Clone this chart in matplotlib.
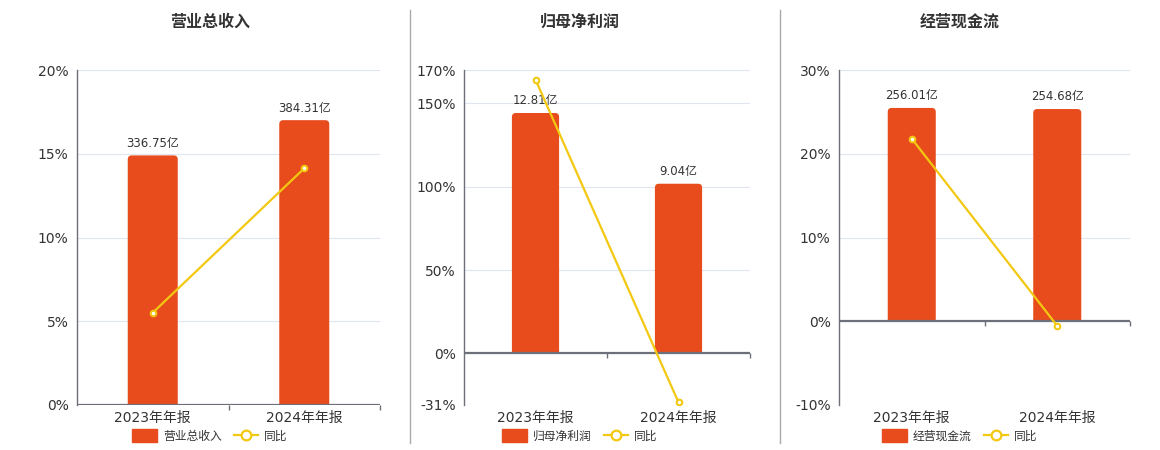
import matplotlib.pyplot as plt
from matplotlib.patches import Patch, PathPatch
from matplotlib.path import Path
from matplotlib.lines import Line2D

plt.rcParams['font.family'] = ['DejaVu Sans', 'Noto Sans CJK SC']

# Data
periods = ['2023年年报', '2024年年报']

titles = ['营业总收入', '归母净利润', '经营现金流']
bar_values = [[336.75, 384.31], [12.81, 9.04], [256.01, 254.68]]
bar_labels = [['336.75亿', '384.31亿'], ['12.81亿', '9.04亿'], ['256.01亿', '254.68亿']]
yoy = [[5.51, 14.13], [164.2, -29.4], [21.8, -0.55]]

pct_ticks = [[0, 5, 10, 15, 20], [-31, 0, 50, 100, 150, 170], [-10, 0, 10, 20, 30]]
bar_max = [452.0, 12.81 * 170 / 144.2, 256.01 * 30 / 25.47]

BAR = '#E84B1C'
LINE = '#F2C811'
AXIS = '#6E7079'
GRID = '#E0E6F1'
TXT = '#333333'

fig = plt.figure(figsize=(11.6, 4.5), dpi=100)

# axes boxes in pixels (left, right), shared top/bottom
boxes = [(77, 380), (464, 750), (839, 1130)]
centers = [210, 580, 960]
W, H = 1160, 450
top_px, bot_px = 70, 405


def top_rounded(x0, w, h, rx, ry):
    x1 = x0 + w
    verts = [(x0, 0), (x0, h - ry), (x0, h), (x0 + rx, h), (x1 - rx, h),
             (x1, h), (x1, h - ry), (x1, 0), (x0, 0)]
    codes = [Path.MOVETO, Path.LINETO, Path.CURVE3, Path.CURVE3, Path.LINETO,
             Path.CURVE3, Path.CURVE3, Path.LINETO, Path.CLOSEPOLY]
    return Path(verts, codes)


for i in range(3):
    l, r = boxes[i]
    ax = fig.add_axes([l / W, 1 - bot_px / H, (r - l) / W, (bot_px - top_px) / H])
    ticks = pct_ticks[i]
    lo, hi = ticks[0], ticks[-1]
    ax.set_xlim(-0.5, 1.5)
    ax.set_ylim(lo, hi)
    ax.set_yticks(ticks)
    ax.set_yticklabels([f'{t}%' for t in ticks])
    ax.tick_params(axis='y', length=0, pad=6, labelsize=10, labelcolor=TXT)
    ax.set_xticks(range(len(periods)))
    ax.set_xticklabels(periods)
    ax.tick_params(axis='x', length=0, pad=4, labelsize=10, labelcolor=TXT)
    ax.grid(axis='y', color=GRID, lw=0.8)
    ax.set_axisbelow(True)
    for s in ['top', 'right', 'bottom']:
        ax.spines[s].set_visible(False)
    ax.spines['left'].set_color(AXIS)
    ax.spines['left'].set_linewidth(1.0)
    tick_len = 5 * (hi - lo) / (bot_px - top_px)
    ax.vlines([0.5, 1.5], 0 - tick_len, 0, color=AXIS, lw=1.0, clip_on=False)

    # bars on a hidden twin axis with zero aligned
    ax2 = ax.twinx()
    m = bar_max[i]
    ax2.set_ylim(m * lo / hi, m)
    ax2.axis('off')
    bars = ax2.bar(range(len(periods)), bar_values[i], width=0.33, color=BAR, zorder=2)
    # rounded top corners
    x_per_px = 2.0 / (r - l)
    y_per_px = (m - m * lo / hi) / (bot_px - top_px)
    for b in bars:
        b.set_visible(False)
        ax2.add_patch(PathPatch(top_rounded(b.get_x(), b.get_width(), b.get_height(),
                                            4 * x_per_px, 4 * y_per_px),
                                facecolor=BAR, edgecolor='none', zorder=2))
    for b, lab in zip(bars, bar_labels[i]):
        ax2.annotate(lab, (b.get_x() + b.get_width() / 2, b.get_height()),
                     xytext=(0, 4), textcoords='offset points',
                     ha='center', va='bottom', fontsize=8.5, color=TXT)
    ax2.axhline(0, color=AXIS, lw=1.6, zorder=3)
    ax2.plot(range(len(periods)), yoy[i], transform=ax.transData, color=LINE, lw=1.6,
             marker='o', markersize=4, markerfacecolor='white', markeredgecolor=LINE,
             markeredgewidth=1.5, zorder=5)

    fig.text(centers[i] / W, 1 - 22 / H, titles[i], ha='center', va='center',
             fontsize=11.5, fontweight='bold', color=TXT)
    handles = [Patch(facecolor=BAR, edgecolor=BAR, label=titles[i]),
               Line2D([0], [0], color=LINE, lw=1.6, marker='o', markersize=7,
                      markerfacecolor='white', markeredgecolor=LINE, markeredgewidth=1.6,
                      label='同比')]
    fig.legend(handles=handles, loc='center', bbox_to_anchor=(centers[i] / W, 1 - 436 / H),
               ncol=2, frameon=False, fontsize=8.5, handlelength=2.1, handleheight=1.2,
               columnspacing=1.0, handletextpad=0.5, labelcolor=TXT)

for x in [410, 780]:
    fig.add_artist(Line2D([x / W, x / W], [1 - 443 / H, 1 - 10 / H], color='#AAAAAA', lw=1.0))

fig.savefig('out.png', dpi=100)
